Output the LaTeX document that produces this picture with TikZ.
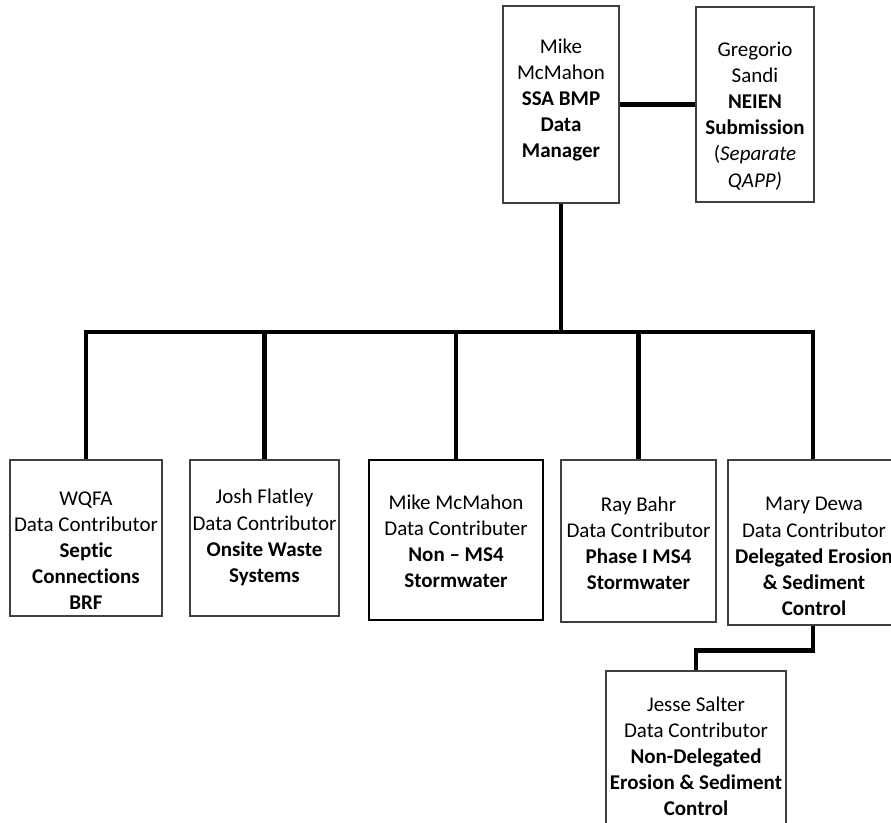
\documentclass[tikz,border=0pt]{standalone}
\usepackage{fontspec}
\setmainfont[Ligatures={NoCommon}]{Carlito}
\begin{document}
\begin{tikzpicture}[x=0.75pt,y=-0.75pt,
  box/.style={draw=black!75,line width=0.9pt,inner sep=0pt,fill=white},
  boxthick/.style={draw=black,line width=1.6pt,inner sep=0pt,fill=white},
  txt/.style={align=center,inner sep=0pt,font=\fontsize{15.75}{19.6}\selectfont},
  conn/.style={line width=3.6pt,line join=miter,black}]
\useasboundingbox (0,0) rectangle (891,823);
\clip (0,0) rectangle (891,823);
% boxes
\node[box,minimum width=87pt,minimum height=147.75pt] (b1) at (561,104.5) {};
\node[box,minimum width=88.5pt,minimum height=146.25pt] (b2) at (755,104.5) {};
\node[box,minimum width=114pt,minimum height=117pt] (c1) at (86,538) {};
\node[box,minimum width=111.75pt,minimum height=117pt] (c2) at (264.5,538) {};
\node[boxthick,minimum width=130.5pt,minimum height=120pt] (c3) at (456,540) {};
\node[box,minimum width=116.25pt,minimum height=121.5pt] (c4) at (638.5,541) {};
\node[box,minimum width=127.5pt,minimum height=123.75pt] (c5) at (813,542.5) {};
\node[box,minimum width=135pt,minimum height=123pt] (c6) at (696,753) {};
% texts
\node[txt] (t1) at (561,100) {Mike\\McMahon\\\textbf{SSA BMP}\\\textbf{Data}\\\textbf{Manager}};
\node[txt] (t2) at (755,116) {Gregorio\\Sandi\\\textbf{NEIEN}\\\textbf{Submission}\\(\textit{Separate}\\\textit{QAPP)}};
\node[txt] (u1) at (86,550.5) {WQFA\\Data Contributor\\\textbf{Septic}\\\textbf{Connections}\\\textbf{BRF}};
\node[txt] (u2) at (264.5,537.5) {Josh Flatley\\Data Contributor\\\textbf{Onsite Waste}\\\textbf{Systems}};
\node[txt] (u3) at (456,541) {Mike McMahon\\Data Contributer\\\textbf{Non – MS4}\\\textbf{Stormwater}};
\node[txt] (u4) at (638.5,543.5) {Ray Bahr\\Data Contributor\\\textbf{Phase I MS4}\\\textbf{Stormwater}};
\node[txt] (u5) at (814,556.5) {Mary Dewa\\Data Contributor\\\textbf{Delegated Erosion}\\\textbf{\& Sediment}\\\textbf{Control}};
\node[txt] (u6) at (696,756.5) {Jesse Salter\\Data Contributor\\\textbf{Non-Delegated}\\\textbf{Erosion \& Sediment}\\\textbf{Control}};
% connectors
\coordinate (bus) at (561,332);
\draw[conn] (b1.east) -- (b2.west);
\draw[conn] (b1.south) -- (bus);
\draw[conn] (c1.north) |- (bus);
\draw[conn] (c2.north) |- (bus);
\draw[conn] (c3.north) |- (bus);
\draw[conn] (c4.north) |- (bus);
\draw[conn] (c5.north) |- (bus);
\draw[conn] (c5.south) -- ++(0,25) -| (c6.north);
\end{tikzpicture}
\end{document}
